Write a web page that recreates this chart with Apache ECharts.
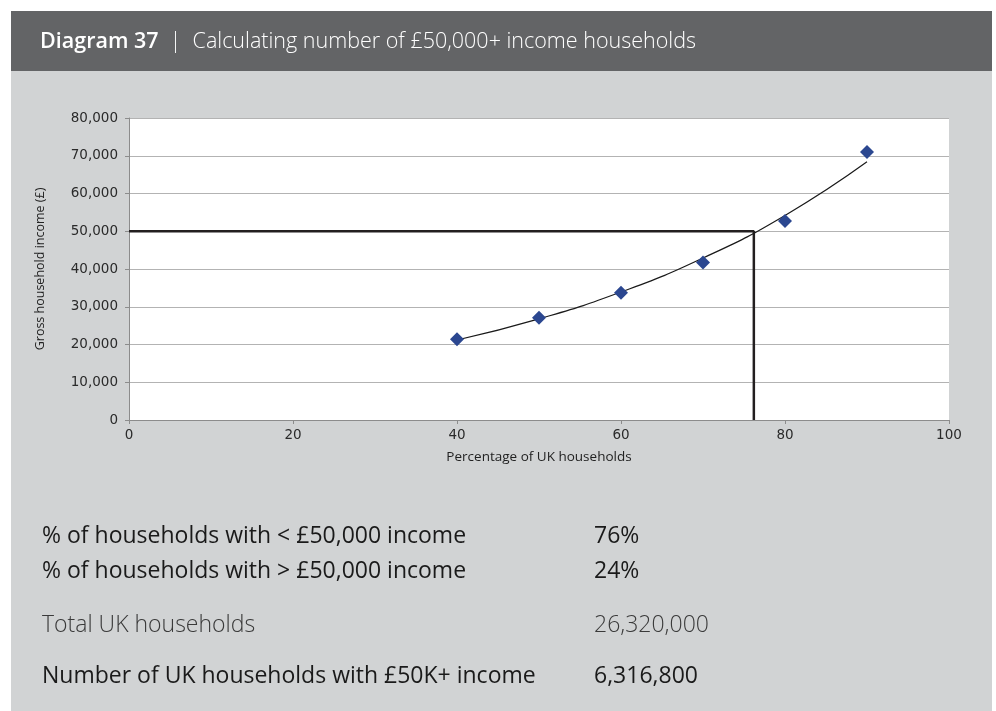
<!DOCTYPE html>
<html>
<head>
<meta charset="utf-8">
<script src="https://cdn.jsdelivr.net/npm/echarts@6/dist/echarts.min.js"></script>
<style>
  html, body { margin: 0; padding: 0; background: #fff; }
  #main { width: 996px; height: 711px; }
</style>
</head>
<body>
<div id="main"></div>
<script>
// percentile of UK households (x) vs gross household income (y)
const percentiles = [40, 50, 60, 70, 80, 90];
const incomes = [21400, 27100, 33700, 41700, 52700, 71000];
// exponential trend line at the same x positions
const trendValues = [21200, 26800, 33900, 42900, 54200, 68400];
// 50k cut-off and where it meets the trend line
const cutoffIncome = 50000;
const cutoffPercent = 76.2;

const xTicks = [0, 20, 40, 60, 80, 100];
const yMax = 80000;

const summaryRows = [
  ["% of households with < £50,000 income", "76%"],
  ["% of households with > £50,000 income", "24%"],
  ["Total UK households", "26,320,000"],
  ["Number of UK households with £50K+ income", "6,316,800"],
];

const myChart = echarts.init(document.getElementById("main"));

const pts = percentiles.map((p, i) => [p, incomes[i]]);
const trend = percentiles.map((p, i) => [p, trendValues[i]]);
const cutoff = [
  [xTicks[0], cutoffIncome],
  [cutoffPercent, cutoffIncome],
  [cutoffPercent, 0],
];

const textFont = '"Open Sans", "Noto Sans", sans-serif';
const rowY = [537, 572, 626, 677];

const option = {
  animation: false,
  backgroundColor: "#fff",
  graphic: [
    { type: "rect", z: -10, shape: { x: 11, y: 11, width: 981, height: 700 }, style: { fill: "#d1d3d4" } },
    { type: "rect", z: -9, shape: { x: 11, y: 11, width: 981, height: 60 }, style: { fill: "#636466" } },
    { type: "rect", z: -8, shape: { x: 129, y: 118, width: 820, height: 302 }, style: { fill: "#ffffff" } },
    {
      type: "text",
      left: 40,
      top: 31,
      style: {
        text: "{a|Diagram 37}{b|  |  Calculating number of £50,000+ income households}",
        rich: {
          a: { fontFamily: textFont, fontSize: 21.5, fontWeight: 600, fill: "#fff" },
          b: { fontFamily: textFont, fontSize: 21.5, fontWeight: 300, fill: "#fff" },
        },
      },
    },
  ].concat(
    summaryRows.flatMap((row, i) => [
      {
        type: "text",
        left: 42,
        top: rowY[i] - 12,
        style: {
          text: row[0],
          fontFamily: textFont,
          fontSize: 23,
          fontWeight: i === 2 ? 300 : "normal",
          fill: i === 2 ? "#3a3a3a" : "#1a1a1a",
        },
      },
      {
        type: "text",
        left: 594,
        top: rowY[i] - 12,
        style: {
          text: row[1],
          fontFamily: textFont,
          fontSize: 23,
          fontWeight: i === 2 ? 300 : "normal",
          fill: i === 2 ? "#3a3a3a" : "#1a1a1a",
        },
      },
    ])
  ),
  grid: { left: 129, right: 47, top: 118, bottom: 291 },
  xAxis: {
    type: "value",
    min: 0,
    max: 100,
    interval: 20,
    name: "Percentage of UK households",
    nameLocation: "middle",
    nameGap: 30,
    nameTextStyle: { fontFamily: textFont, fontSize: 13.5, color: "#222" },
    axisLine: { show: true, lineStyle: { color: "#8c8c8c", width: 1 } },
    axisTick: { show: true, length: 4, lineStyle: { color: "#8c8c8c" } },
    axisLabel: { margin: 8, fontFamily: "DejaVu Sans", fontSize: 13.5, color: "#2a2a2a" },
    splitLine: { show: false },
  },
  yAxis: {
    type: "value",
    min: 0,
    max: yMax,
    interval: 10000,
    name: "Gross household income (£)",
    nameLocation: "middle",
    nameGap: 82,
    nameTextStyle: { fontFamily: textFont, fontSize: 12.5, color: "#222" },
    axisLine: { show: true, lineStyle: { color: "#8c8c8c", width: 1 } },
    axisTick: { show: true, length: 4, lineStyle: { color: "#8c8c8c" } },
    axisLabel: {
      margin: 11,
      fontFamily: "DejaVu Sans",
      fontSize: 13.5,
      color: "#2a2a2a",
      formatter: (v) => v.toLocaleString("en-GB"),
    },
    splitLine: { show: true, lineStyle: { color: "#b3b3b3", width: 1 } },
  },
  series: [
    {
      name: "Cut-off",
      type: "line",
      data: cutoff,
      symbol: "none",
      lineStyle: { color: "#231f20", width: 2.5 },
      z: 2,
    },
    {
      name: "Trend",
      type: "line",
      data: trend,
      smooth: 0.5,
      symbol: "none",
      lineStyle: { color: "#1a1a1a", width: 1.2 },
      z: 3,
    },
    {
      name: "Income",
      type: "scatter",
      data: pts,
      symbol: "diamond",
      symbolSize: [14, 14],
      itemStyle: { color: "#2b4790", opacity: 1 },
      z: 4,
    },
  ],
};

myChart.setOption(option);
</script>
</body>
</html>
